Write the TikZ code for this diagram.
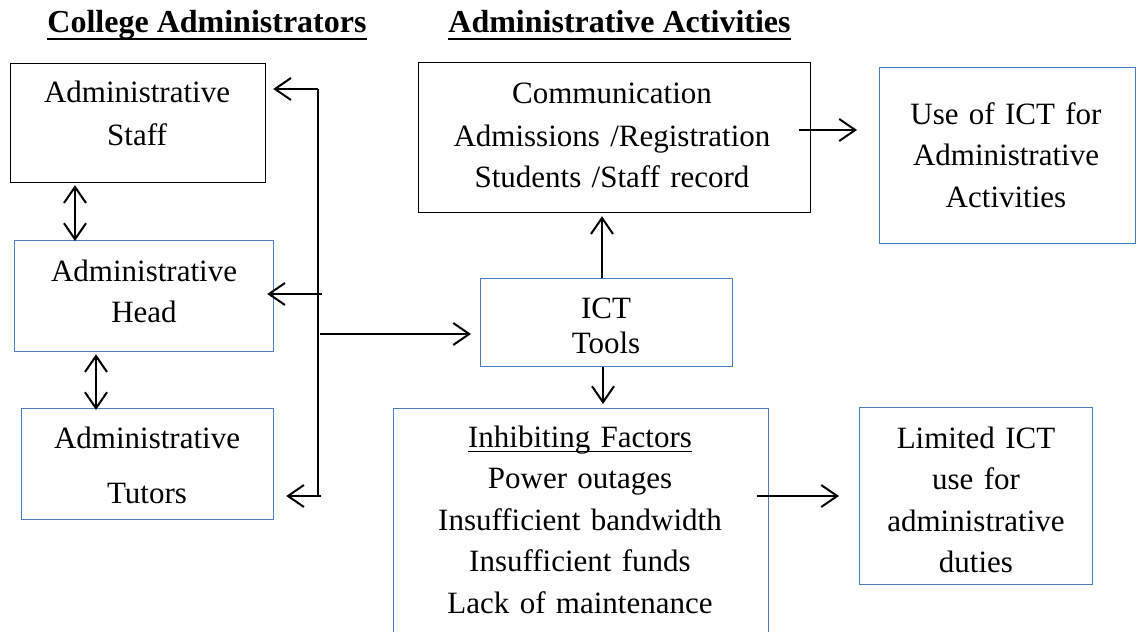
\documentclass[tikz,border=0pt]{standalone}
\usepackage{fontspec}
\setmainfont{Liberation Serif}
\usetikzlibrary{arrows.meta}
\definecolor{boxblue}{RGB}{74,126,187}
\newcommand\myul[1]{\setbox0\hbox{#1}\rlap{\rule[-2.6pt]{\wd0}{0.6pt}}\box0}
\begin{document}
\begin{tikzpicture}[x=0.5pt,y=-0.5pt,
  bx/.style={draw=black, line width=0.6pt, inner sep=0pt, anchor=north west},
  bbx/.style={bx, draw=boxblue},
  txt/.style={font=\fontsize{15.5}{#1}\selectfont, align=center, anchor=base, inner sep=0pt, text width=170pt},
  hdr/.style={font=\fontsize{16}{19}\selectfont\bfseries, anchor=base, inner sep=0pt},
  ln/.style={line width=1pt},
  arr/.style={line width=1pt, -{Straight Barb[length=8pt,width=11pt,line width=1pt]}},
  darr/.style={line width=1pt, {Straight Barb[length=8pt,width=11pt,line width=1pt]}-{Straight Barb[length=8pt,width=11pt,line width=1pt]}}
]
\useasboundingbox (0,0) rectangle (1139,631);
\clip (0,0) rectangle (1139,631);

% headers
\node[hdr] (h1) at (207,33) {College Administrators};
\node[hdr] (h2) at (619.5,33) {Administrative Activities};
\draw[line width=1.1pt] ([yshift=-3pt]h1.base west) -- ([yshift=-3pt]h1.base east);
\draw[line width=1.1pt] ([yshift=-3pt]h2.base west) -- ([yshift=-3pt]h2.base east);

% boxes
\node[bx,  minimum width=127.5pt, minimum height=59.5pt] (staff) at (10,63) {};
\node[bbx, minimum width=129.5pt, minimum height=55.5pt] (head) at (14,240) {};
\node[bbx, minimum width=126pt,   minimum height=55.5pt] (tutors) at (21,408) {};
\node[bx,  minimum width=196pt,   minimum height=75pt]   (comm) at (418,62) {};
\node[bbx, minimum width=128pt,   minimum height=88pt]   (use) at (879,67) {};
\node[bbx, minimum width=126pt,   minimum height=44pt]   (ict) at (480,278) {};
\node[bbx, minimum width=187.5pt, minimum height=130pt]  (inh) at (393,408) {};
\node[bbx, minimum width=116.5pt, minimum height=88.5pt] (lim) at (859,407) {};

% texts
\node[txt=21pt]   (tstaff) at (137,103) {Administrative\\Staff};
\node[txt=20.5pt] (thead) at (144,281) {Administrative\\Head};
\node[txt=27.5pt] (ttutors) at (147,448) {Administrative\\Tutors};
\node[txt=21pt]   (tcomm) at (612,104) {Communication\\Admissions /Registration\\Students /Staff record};
\node[txt=20.5pt] (tuse) at (1006,125) {Use of ICT for\\Administrative\\Activities};
\node[txt=17.5pt] (tict) at (606,318) {ICT\\Tools};
\node[txt=20.75pt] (tinh) at (580,447) {\myul{Inhibiting Factors}\\Power outages\\Insufficient bandwidth\\Insufficient funds\\Lack of maintenance};
\node[txt=20.8pt] (tlim) at (976,448) {Limited ICT\\use for\\administrative\\duties};

% connectors
\coordinate (bt) at (318,89);
\coordinate (bb) at (318,496);
\coordinate (hs) at (322,294);
\coordinate (ts) at (321,496);
\coordinate (is) at (320,334);
\coordinate (cs) at (799,130);
\coordinate (ls) at (757,496);
\coordinate (x75) at (75,0);
\coordinate (x96) at (96,0);
\coordinate (x602) at (602,0);
\coordinate (x603) at (603,0);

\draw[ln] (bt) -- (bb);
\draw[arr, shorten >=3.5pt] (bt) -- (staff.east |- bt);
\draw[arr, shorten >=-3.5pt] (hs) -- (head.east |- hs);
\draw[arr, shorten >=6pt] (ts) -- (tutors.east |- ts);
\draw[arr, shorten >=4.5pt] (is) -- (ict.west |- is);
\draw[darr, shorten <=1pt, shorten >=-0.5pt] (x75 |- staff.south) -- (x75 |- head.north);
\draw[darr, shorten <=1pt, shorten >=-1pt] (x96 |- head.south) -- (x96 |- tutors.north);
\draw[arr, shorten >=1.5pt] (x602 |- ict.north) -- (x602 |- comm.south);
\draw[arr, shorten >=2pt] (x603 |- ict.south) -- (x603 |- inh.north);
\draw[arr, shorten >=11pt] (cs) -- (use.west |- cs);
\draw[arr, shorten >=10pt] (ls) -- (lim.west |- ls);
\end{tikzpicture}
\end{document}
